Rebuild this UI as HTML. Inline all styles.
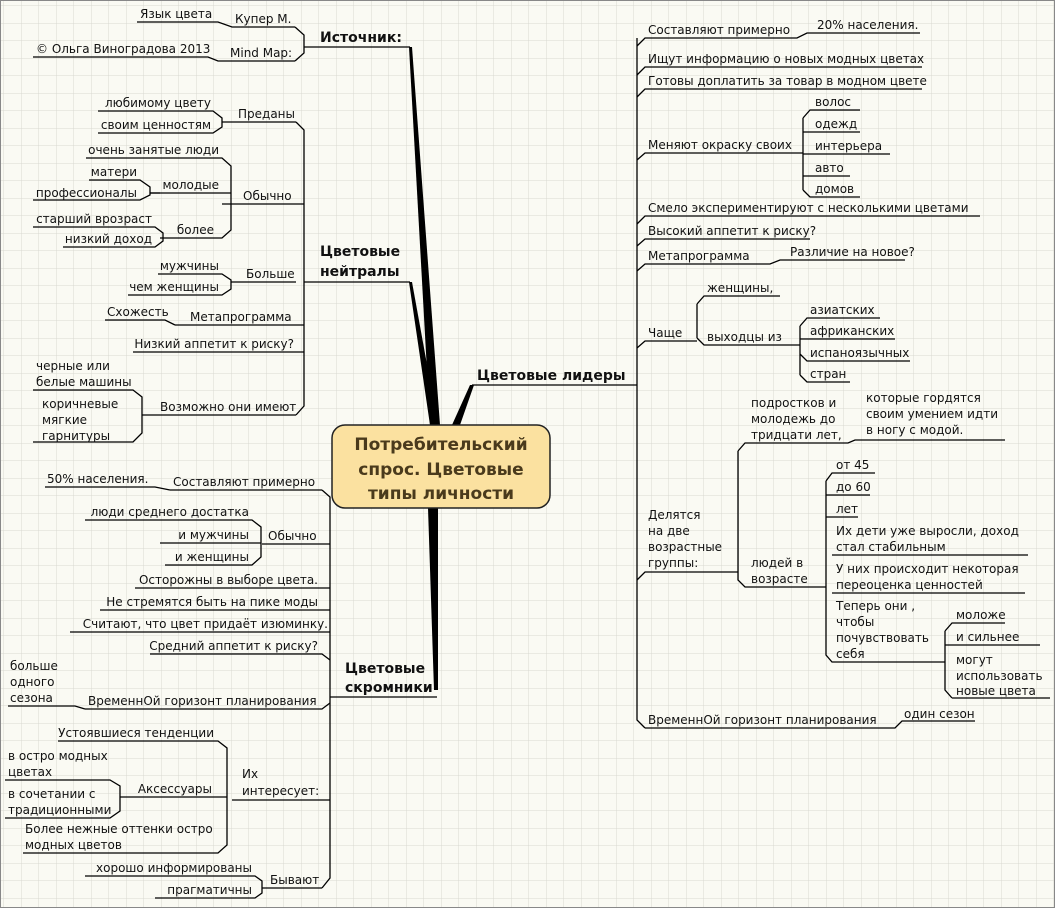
<!DOCTYPE html>
<html><head><meta charset="utf-8"><style>
html,body{margin:0;padding:0;width:1055px;height:908px;overflow:hidden;background:#fafaf3}
svg{display:block}
text{font-family:"DejaVu Sans","Liberation Sans",sans-serif;font-size:12px;fill:#111}
.b{font-size:14px;font-weight:bold}
.c{font-size:17px;fill:#4a3a1c;font-weight:bold}
.e{text-anchor:end}
</style></head><body>
<svg width="1055" height="908" xmlns="http://www.w3.org/2000/svg">
<defs><pattern id="g" width="17.5" height="17.5" patternUnits="userSpaceOnUse" x="4" y="6"><path d="M17.5 0V17.5H0" fill="none" stroke="#d9d9d2" stroke-width="1"/></pattern></defs>
<rect width="1055" height="908" fill="url(#g)"/>
<rect x="0.5" y="0.5" width="1054" height="907" fill="none" stroke="#888" stroke-width="1"/>

<g fill="#000">
<polygon points="409,47 412,47 440,425 430,425"/>
<polygon points="409,282 412,282 438,425 430,425"/>
<polygon points="428,508 438,508 438,690 434,690"/>
<polygon points="470,385 474,385 460,425 452,425"/>
</g>

<g stroke="#000" stroke-width="1.3" fill="none">
<path d="M137 22H218L232 27H295M33 57H208L218 61H295"/>
<path d="M295 27L304 35V53L295 61M304 47H410"/>
<path d="M296 122L304 130V406L296 415M304 282H410"/>
<path d="M235 122H296M232 204H304M232 282H296M175 325H304M133 352H304M150 415H296"/>
<path d="M98 111H213L222 118V127L213 133H98M222 122H235"/>
<path d="M86 158H222L231 166V230L222 238H160M150 193H231M222 204H232"/>
<path d="M89 180H140L150 187V195L140 200H33M150 193H160"/>
<path d="M33 227H155L163 233V241L155 247H63"/>
<path d="M158 274H222L231 280V289L222 295H128M231 282H232"/>
<path d="M105 320H165L175 325"/>
<path d="M33 390H133L142 397V433L133 442H33M142 415H150"/>
<path d="M322 490L330 497V878L322 888M330 697H437"/>
<path d="M170 490H322M45 487H155L170 490"/>
<path d="M262 544H330M85 520H252L261 527V557L252 565H165M160 543H261"/>
<path d="M135 588H330M100 610H330M70 632H330M150 654H322L330 660"/>
<path d="M85 709H322L330 703M8 706H75L85 709"/>
<path d="M232 800H330M58 741H218L227 748V845L218 853H23M130 797H227"/>
<path d="M5 780H110L120 786V811L110 818H5M120 797H130"/>
<path d="M265 888H322M85 876H255L262 881V893L255 898H155M262 888H265"/>
<path d="M472 385H637M637 38V720L645 728"/>
<path d="M637 46L645 38H790L797 38L807 33H920"/>
<path d="M637 75L645 67H922M637 97L645 89H922"/>
<path d="M637 160L645 153H803M803 118L810 110H860M803 132H810M810 132H860M803 154H890M803 176H850M803 190L810 197H860M803 118V190"/>
<path d="M637 224L645 216H980M637 246L645 239H810M637 271L645 264H770L780 260H905"/>
<path d="M637 348L645 341H697M697 304L704 296H780M697 338L704 345H790M697 304V338"/>
<path d="M790 345H800M800 326L807 318H880M800 339H895M800 354L807 361H910M800 375L807 382H850M800 326V375"/>
<path d="M637 580L645 572H738M738 451L745 443H848L855 440H1005M738 451V580L745 587H826"/>
<path d="M826 481L832 473H875M826 495H870M826 517H858M832 555H1028M832 593H1025M826 481V655L832 662H945M826 510V550"/>
<path d="M945 631L952 623H1005M945 645H1040M952 698H1050M945 631V690L952 698"/>
<path d="M645 728H895L902 721H975"/>
</g>

<rect x="332" y="425" width="218" height="83" rx="13" fill="#fbe1a0" stroke="#222" stroke-width="1.5"/>
<text class="c" x="441" y="450" text-anchor="middle">Потребительский</text>
<text class="c" x="441" y="475" text-anchor="middle">спрос. Цветовые</text>
<text class="c" x="441" y="499" text-anchor="middle">типы личности</text>

<text class="b" x="320" y="42">Источник:</text>
<text x="140" y="18">Язык цвета</text>
<text x="235" y="23">Купер М.</text>
<text x="36" y="53">© Ольга Виноградова 2013</text>
<text x="230" y="57">Mind Map:</text>

<text class="b" x="320" y="256">Цветовые</text>
<text class="b" x="320" y="276">нейтралы</text>
<text x="238" y="118">Преданы</text>
<text class="e" x="211" y="107">любимому цвету</text>
<text class="e" x="211" y="129">своим ценностям</text>
<text x="243" y="200">Обычно</text>
<text class="e" x="219" y="154">очень занятые люди</text>
<text class="e" x="219" y="189">молодые</text>
<text class="e" x="137" y="176">матери</text>
<text class="e" x="137" y="197">профессионалы</text>
<text class="e" x="152" y="223">старший врозраст</text>
<text class="e" x="152" y="243">низкий доход</text>
<text class="e" x="214" y="234">более</text>
<text x="246" y="278">Больше</text>
<text class="e" x="219" y="270">мужчины</text>
<text class="e" x="219" y="291">чем женщины</text>
<text x="107" y="316">Схожесть</text>
<text x="190" y="321">Метапрограмма</text>
<text class="e" x="294" y="348">Низкий аппетит к риску?</text>
<text x="160" y="411">Возможно они имеют</text>
<text x="36" y="370">черные или</text>
<text x="36" y="386">белые машины</text>
<text x="42" y="408">коричневые</text>
<text x="42" y="424">мягкие</text>
<text x="42" y="440">гарнитуры</text>

<text class="b" x="345" y="673">Цветовые</text>
<text class="b" x="345" y="692">скромники</text>
<text x="173" y="486">Составляют примерно</text>
<text x="47" y="483">50% населения.</text>
<text x="268" y="540">Обычно</text>
<text class="e" x="249" y="516">люди среднего достатка</text>
<text class="e" x="249" y="539">и мужчины</text>
<text class="e" x="249" y="561">и женщины</text>
<text class="e" x="318" y="584">Осторожны в выборе цвета.</text>
<text class="e" x="318" y="606">Не стремятся быть на пике моды</text>
<text class="e" x="328" y="628">Считают, что цвет придаёт изюминку.</text>
<text class="e" x="318" y="650">Средний аппетит к риску?</text>
<text x="88" y="705">ВременнОй горизонт планирования</text>
<text x="10" y="670">больше</text>
<text x="10" y="686">одного</text>
<text x="10" y="702">сезона</text>
<text x="242" y="778">Их</text>
<text x="242" y="795">интересует:</text>
<text class="e" x="214" y="737">Устоявшиеся тенденции</text>
<text class="e" x="212" y="793">Аксессуары</text>
<text x="8" y="760">в остро модных</text>
<text x="8" y="776">цветах</text>
<text x="8" y="798">в сочетании с</text>
<text x="8" y="814">традиционными</text>
<text x="25" y="833">Более нежные оттенки остро</text>
<text x="25" y="849">модных цветов</text>
<text x="270" y="884">Бывают</text>
<text class="e" x="252" y="872">хорошо информированы</text>
<text class="e" x="252" y="894">прагматичны</text>

<text class="b" x="477" y="380">Цветовые лидеры</text>
<text x="648" y="34">Составляют примерно</text>
<text x="817" y="29">20% населения.</text>
<text x="648" y="63">Ищут информацию о новых модных цветах</text>
<text x="648" y="85">Готовы доплатить за товар в модном цвете</text>
<text x="648" y="149">Меняют окраску своих</text>
<text x="815" y="106">волос</text>
<text x="815" y="128">одежд</text>
<text x="815" y="150">интерьера</text>
<text x="815" y="172">авто</text>
<text x="815" y="193">домов</text>
<text x="648" y="212">Смело экспериментируют с несколькими цветами</text>
<text x="648" y="235">Высокий аппетит к риску?</text>
<text x="648" y="260">Метапрограмма</text>
<text x="790" y="256">Различие на новое?</text>
<text x="648" y="337">Чаще</text>
<text x="707" y="292">женщины,</text>
<text x="707" y="341">выходцы из</text>
<text x="810" y="314">азиатских</text>
<text x="810" y="335">африканских</text>
<text x="810" y="357">испаноязычных</text>
<text x="810" y="378">стран</text>
<text x="648" y="519">Делятся</text>
<text x="648" y="535">на две</text>
<text x="648" y="551">возрастные</text>
<text x="648" y="567">группы:</text>
<text x="751" y="407">подростков и</text>
<text x="751" y="423">молодежь до</text>
<text x="751" y="439">тридцати лет,</text>
<text x="866" y="402">которые гордятся</text>
<text x="866" y="418">своим умением идти</text>
<text x="866" y="434">в ногу с модой.</text>
<text x="751" y="567">людей в</text>
<text x="751" y="583">возрасте</text>
<text x="836" y="469">от  45</text>
<text x="836" y="491">до 60</text>
<text x="836" y="513">лет</text>
<text x="836" y="535">Их дети уже выросли, доход</text>
<text x="836" y="551">стал стабильным</text>
<text x="836" y="573">У них происходит некоторая</text>
<text x="836" y="589">переоценка ценностей</text>
<text x="836" y="610">Теперь они ,</text>
<text x="836" y="626">чтобы</text>
<text x="836" y="642">почувствовать</text>
<text x="836" y="658">себя</text>
<text x="956" y="619">моложе</text>
<text x="956" y="641">и сильнее</text>
<text x="956" y="664">могут</text>
<text x="956" y="680">использовать</text>
<text x="956" y="695">новые цвета</text>
<text x="648" y="724">ВременнОй горизонт планирования</text>
<text x="904" y="718">один сезон</text>
</svg>
</body></html>
